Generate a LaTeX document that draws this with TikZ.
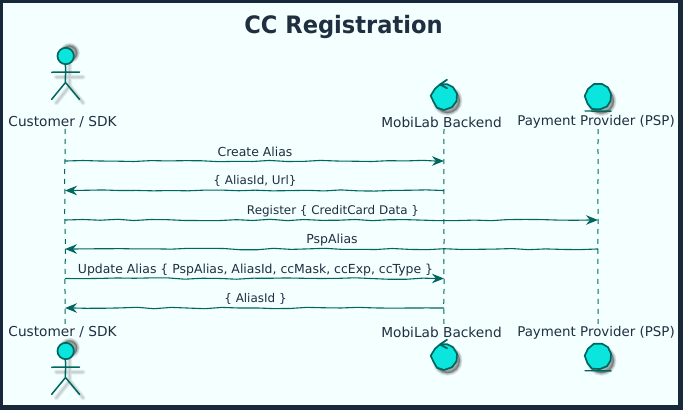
\documentclass[tikz,border=0pt]{standalone}
\usepackage{fontspec}
\setmainfont{DejaVu Sans}
\newfontfamily\titlefont{DejaVu Sans}[FakeStretch=0.94]
\usetikzlibrary{arrows.meta,decorations.pathmorphing}
\definecolor{frameC}{HTML}{17293A}
\definecolor{bgC}{HTML}{F4FFFF}
\definecolor{lineC}{HTML}{00665E}
\definecolor{fillC}{HTML}{0AE6DE}
\definecolor{textC}{HTML}{1F2F40}
\tikzset{
  lbl/.style={text=textC,font=\fontsize{12.45}{15}\selectfont,inner sep=0pt},
  lblnarrow/.style={text=textC,font=\fontsize{11.95}{15}\selectfont,inner sep=0pt},
  ttl/.style={text=textC,font=\titlefont\fontsize{24}{28}\selectfont\bfseries,inner sep=0pt},
  partlbl/.style={text=textC,font=\fontsize{13.7}{16}\selectfont,inner sep=0pt},
  psplbl/.style={text=textC,font=\fontsize{13.4}{16}\selectfont,inner sep=0pt},
  lifeln/.style={draw=lineC,line width=1pt,dash pattern=on 5pt off 5pt,
     decorate,decoration={random steps,segment length=22pt,amplitude=.35pt}},
  msg/.style={draw=lineC,line width=1.1pt,decorate,
     decoration={random steps,segment length=17pt,amplitude=.75pt,pre length=1pt,post length=9pt}},
  msgtip/.style={-{Stealth[length=12pt,width=9.5pt,inset=4pt,fill=lineC]}},
  blobfill/.style={draw=lineC,line width=1.7pt,fill=fillC,line join=round},
  stick/.style={draw=lineC,line width=1.5pt,line cap=round,line join=round},
  shadowA/.style={line width=#1,draw=black,fill=black,opacity=.09,line join=round},
  shadowL/.style={line width=#1,draw=black,opacity=.055,line cap=round},
  actorfig/.pic={
    \begin{scope}[shift={(4,5)}]
      \foreach \w in {5pt,3.5pt,2pt,.5pt}{
        \path[shadowA=\w] (0,-8)circle[radius=7.6pt];
        \path[shadowL=\w] (0,0)--(0,25) (-13.5,16)--(13.5,16) (0,25)--(-13.5,42) (0,25)--(13.5,42);
      }
    \end{scope}
    \path[stick] (-.4,8.5) .. controls (.6,14) and (-.7,20) .. (-.2,26.5)
      (-14,16.3) .. controls (-5,15.6) and (5,16.6) .. (13.8,16)
      (-.2,26.5) -- (-14,43.3) (-.2,26.5) -- (13.8,43.3);
    \path[blobfill] (0,0)circle[radius=8.2pt];
  },
  blobshadow/.pic={
    \begin{scope}[shift={(3.5,4)}]
      \foreach \w in {5pt,3.5pt,2pt,.5pt}{
        \path[shadowA=\w] (0,0)circle[radius=12.5pt];
      }
    \end{scope}
  },
  controlfig/.pic={
    \path pic {blobshadow};
    \path[blobfill] (-4,-12.2) -- (3,-12.6) -- (9,-9.5) -- (13,-3) -- (12.5,4.5) -- (8,10.5) -- (0,13.3)
      -- (-7,11) -- (-10.5,5) -- (-13.3,-1) -- (-9,-8) -- cycle;
    \path[draw=lineC,line width=1.8pt,line join=round,line cap=round] (3,-17) -- (-4,-12.2) -- (3,-8.5);
  },
  entityfig/.pic={
    \path pic {blobshadow};
    \path[blobfill] (-4,-13) -- (4,-13) -- (10,-9.5) -- (13,-3) -- (12.5,4) -- (9,9.5) -- (2,12.3)
      -- (-6,12) -- (-10.5,6.5) -- (-13.3,-1) -- (-10,-8) -- cycle;
    \path[draw=lineC,line width=1.4pt,line cap=round] (-13,14) -- (13,14.2);
  },
}
\pgfmathsetseed{4217}
\begin{document}
\begin{tikzpicture}[x=1pt,y=-1pt]
\useasboundingbox (0,0) rectangle (685,412);
\fill[white] (0,0) rectangle (685,412);
\fill[frameC] (0,0) rectangle (683,410);
\fill[bgC] (3,3) rectangle (678,405);

\node[ttl] (title) at (343.5,27) {CC Registration};

\coordinate (ca) at (65,129);   \coordinate (cb) at (65,324);
\coordinate (ma) at (444,129);  \coordinate (mb) at (444,324);
\coordinate (pa) at (598,129);  \coordinate (pb) at (598,324);
\path[lifeln] (ca) -- (cb);
\path[lifeln] (ma) -- (mb);
\path[lifeln] (pa) -- (pb);

\node[partlbl] (custT) at (62.5,122) {Customer / SDK};
\node[partlbl] (mobiT) at (441.5,122) {MobiLab Backend};
\node[psplbl] (pspT)  at (596,122) {Payment Provider (PSP)};
\node[partlbl] (custB) at (62.5,332.5) {Customer / SDK};
\node[partlbl] (mobiB) at (441.5,332.5) {MobiLab Backend};
\node[psplbl] (pspB)  at (596,332.5) {Payment Provider (PSP)};

\path (65.7,56) pic {actorfig};
\path (65.7,351) pic {actorfig};
\path (444,96.7) pic {controlfig};
\path (598,97) pic {entityfig};
\path (444,356.7) pic {controlfig};
\path (598,356.7) pic {entityfig};

\coordinate (c1) at (65,161);    \coordinate (m1) at (444,161);
\coordinate (m2) at (444,190.5); \coordinate (c2) at (65,190.5);
\coordinate (c3) at (65,220);    \coordinate (p3) at (598,220);
\coordinate (p4) at (598,249);   \coordinate (c4) at (65,249);
\coordinate (c5) at (65,278.5);  \coordinate (m5) at (444,278.5);
\coordinate (m6) at (444,308);   \coordinate (c6) at (65,308);

\path[msg,msgtip] (c1) -- (m1);
\path[msg,msgtip] (m2) -- (c2);
\path[msg,msgtip] (c3) -- (p3);
\path[msg,msgtip] (p4) -- (c4);
\path[msg,msgtip] (c5) -- (m5);
\path[msg,msgtip] (m6) -- (c6);

\node[lbl] (l1) at (255,152) {Create Alias};
\node[lblnarrow] (l2) at (255,181) {\{ AliasId, Url\}};
\node[lblnarrow] (l3) at (333,211) {Register \{ CreditCard Data \}};
\node[lbl] (l4) at (332,240) {PspAlias};
\node[lbl] (l5) at (255.5,270) {Update Alias \{ PspAlias, AliasId, ccMask, ccExp, ccType \}};
\node[lblnarrow] (l6) at (255.5,299) {\{ AliasId \}};
\end{tikzpicture}
\end{document}
